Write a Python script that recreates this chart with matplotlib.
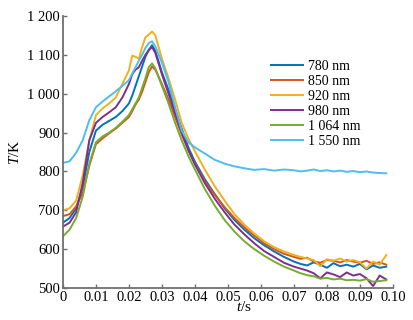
import matplotlib
matplotlib.use('Agg')
import matplotlib.pyplot as plt

plt.rcParams['font.family'] = ['Liberation Serif', 'DejaVu Serif']
plt.rcParams['mathtext.fontset'] = 'custom'
plt.rcParams['mathtext.rm'] = 'Liberation Serif'
plt.rcParams['mathtext.it'] = 'Liberation Serif:italic'

# time axis (s)
t = [0, .002, .004, .006, .008, .010, .012, .014, .016, .018, .020,
     .021, .022, .023, .024, .025, .026, .027, .028,
     .030, .032, .034, .036, .038, .040,
     .043, .046, .049, .052, .055, .058, .061, .064, .067,
     .070, .072, .074, .076, .078, .080, .082, .084, .086, .088,
     .090, .092, .094, .096, .098]

# temperature (K) per wavelength
T780 = [668, 680, 705, 760, 850, 905, 920, 930, 940, 955, 975,
        995, 1020, 1045, 1070, 1095, 1112, 1125, 1110,
        1055, 1010, 960, 910, 862, 825,
        780, 742, 705, 675, 650, 628, 610, 594, 580,
        568, 562, 558, 566, 560, 552, 564, 556, 560, 555,
        562, 548, 558, 552, 555]
T850 = [685, 690, 710, 745, 815, 870, 885, 898, 910, 925, 940,
        955, 972, 985, 1005, 1030, 1055, 1070, 1062,
        1025, 985, 940, 895, 855, 820,
        775, 740, 708, 680, 656, 635, 615, 600, 588,
        580, 575, 578, 568, 565, 572, 570, 566, 572, 568,
        565, 570, 562, 566, 560]
T920 = [700, 705, 725, 790, 880, 945, 962, 975, 990, 1025, 1060,
        1098, 1095, 1090, 1120, 1145, 1152, 1160, 1150,
        1090, 1040, 985, 925, 885, 852,
        805, 762, 725, 690, 663, 640, 620, 605, 594,
        585, 580, 576, 572, 556, 574, 570, 576, 568, 572,
        566, 550, 568, 560, 585]
T980 = [658, 668, 695, 770, 880, 925, 940, 952, 965, 990, 1025,
        1050, 1062, 1068, 1085, 1100, 1112, 1120, 1105,
        1050, 1000, 950, 900, 855, 818,
        770, 730, 695, 663, 638, 615, 595, 580, 565,
        555, 550, 545, 538, 525, 540, 535, 528, 540, 532,
        536, 525, 505, 532, 522]
T1064 = [633, 650, 680, 735, 820, 875, 890, 900, 912, 928, 945,
         960, 975, 990, 1015, 1040, 1068, 1078, 1065,
         1020, 975, 925, 880, 840, 805,
         755, 712, 675, 645, 620, 600, 583, 568, 555,
         545, 538, 533, 530, 524, 526, 522, 524, 520, 521,
         519, 523, 516, 518, 520]
T1550 = [822, 826, 848, 880, 932, 965, 980, 993, 1006, 1020, 1035,
         1052, 1068, 1085, 1100, 1118, 1130, 1135, 1122,
         1080, 1030, 965, 905, 875, 862,
         846, 830, 820, 813, 808, 804, 806, 802, 805,
         803, 800, 802, 805, 801, 803, 800, 802, 799, 801,
         798, 800, 797, 796, 795]

labels = ['780 nm', '850 nm', '920 nm', '980 nm', '1 064 nm', '1 550 nm']
colors = ['#0072BD', '#D95319', '#EDB120', '#7E2F8E', '#77AC30', '#4DBEEE']
series = [T780, T850, T920, T980, T1064, T1550]

yticks = [500, 600, 700, 800, 900, 1000, 1100, 1200]
ytick_labels = ['500', '600', '700', '800', '900', '1 000', '1 100', '1 200']
xticks = [0, 0.01, 0.02, 0.03, 0.04, 0.05, 0.06, 0.07, 0.08, 0.09, 0.10]
xtick_labels = ['0', '0.01', '0.02', '0.03', '0.04', '0.05', '0.06', '0.07',
                '0.08', '0.09', '0.10']

fig = plt.figure(figsize=(4.14, 3.2), dpi=100)
ax = fig.add_axes([0.152, 0.1, 0.797, 0.85])

for y, c, lab in zip(series, colors, labels):
    ax.plot(t, y, color=c, lw=1.4, label=lab)

ax.set_xlim(0, 0.10)
ax.set_ylim(500, 1200)
ax.set_yticks(yticks)
ax.set_yticklabels(ytick_labels)
ax.set_xticks(xticks)
ax.set_xticklabels(xtick_labels)

for s in ['top', 'right']:
    ax.spines[s].set_visible(False)
for s in ['left', 'bottom']:
    ax.spines[s].set_color('#707070')
    ax.spines[s].set_linewidth(1.3)
ax.tick_params(direction='in', length=3, width=1, color='#707070',
               labelsize=10.5, pad=2)

ax.set_ylabel('$T$/K', fontsize=11, labelpad=4)
ax.set_xlabel('$t$/s', fontsize=11, labelpad=0)
ax.xaxis.set_label_coords(0.55, -0.045)

# legend without frame, to the right of the peak
leg = ax.legend(loc='upper left', bbox_to_anchor=(0.615, 0.86), frameon=False,
                fontsize=10, handlelength=2.3, handletextpad=0.3,
                labelspacing=0.15, borderaxespad=0)

fig.savefig('out.png', dpi=100)
